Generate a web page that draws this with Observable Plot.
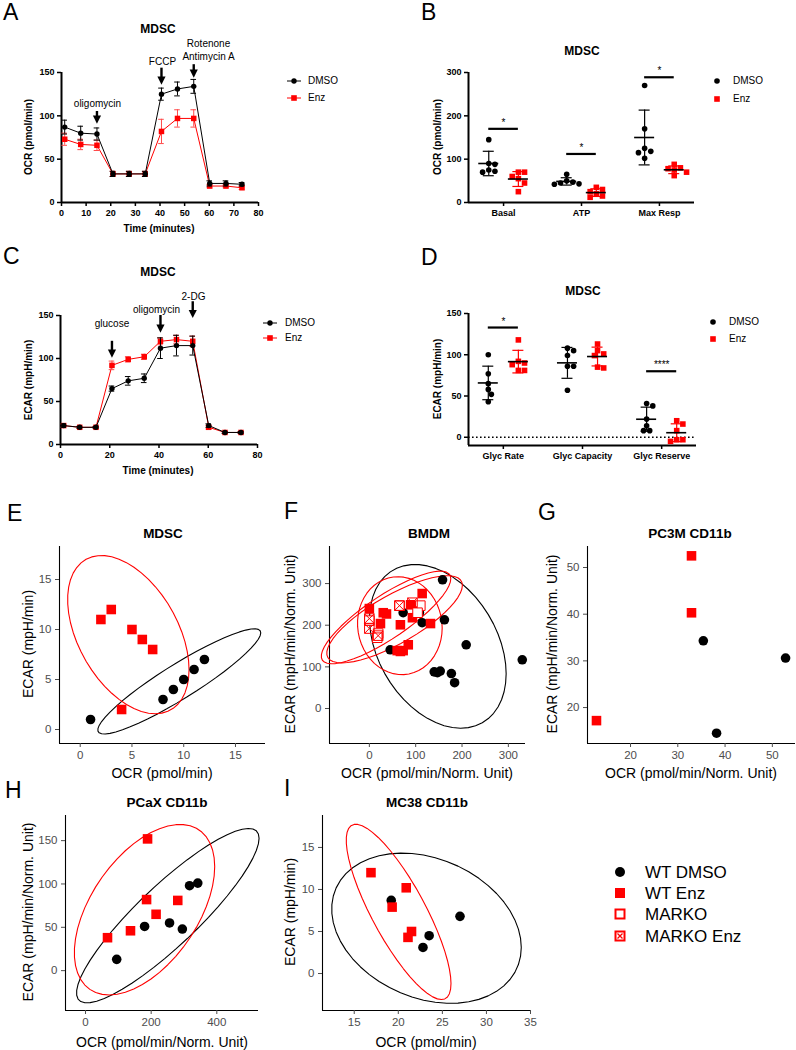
<!DOCTYPE html>
<html>
<head>
<meta charset="utf-8">
<script src="https://cdn.jsdelivr.net/npm/d3@7"></script>
<script src="https://cdn.jsdelivr.net/npm/@observablehq/plot@0.6"></script>
<style>
html,body{margin:0;padding:0;background:#fff;}
#fig{position:relative;width:796px;height:1050px;overflow:hidden;background:#fff;font-family:"Liberation Sans",Arial,Helvetica,sans-serif;}
</style>
</head>
<body>
<div id="fig"></div>
<script>
// ================= DATA =================
// A / C : Seahorse kinetic traces (mean and SD)
const times = [1.3, 7.8, 14.4, 20.9, 27.5, 34.0, 40.6, 47.1, 53.7, 60.2, 66.8, 73.3];
const ocrDmso   = [87, 80, 79, 33, 33, 33, 125, 131, 134, 22, 22, 21];
const ocrDmsoSd = [8, 8, 7, 3, 3, 3, 7, 8, 8, 3, 3, 2];
const ocrEnz    = [73, 67, 66, 33, 33, 33, 82, 97, 97, 19, 19, 17];
const ocrEnzSd  = [7, 6, 6, 3, 3, 3, 14, 10, 10, 2, 2, 2];
const ecarDmso   = [22, 20, 20, 65, 74, 77, 112, 115, 115, 22, 14, 14];
const ecarDmsoSd = [2, 1, 1, 3, 5, 5, 12, 12, 11, 2, 1, 1];
const ecarEnz    = [22, 20, 20, 92, 99, 102, 120, 122, 120, 20, 14, 14];
const ecarEnzSd  = [2, 1, 1, 5, 3, 3, 4, 5, 6, 2, 1, 1];
const injectionsA = ["oligomycin", "FCCP", "Rotenone\nAntimycin A"];
const injectionsC = ["glucose", "oligomycin", "2-DG"];
const ticksTimeA = [0, 10, 20, 30, 40, 50, 60, 70, 80];
const ticksTimeC = [0, 20, 40, 60, 80];
const ticksRate = [0, 50, 100, 150];

// B : mito stress parameters
const catsB = ["Basal", "ATP", "Max Resp"];
const bDmso = [[145, 90, 88, 75, 72, 70], [65, 50, 47, 45, 43, 42], [270, 170, 125, 118, 115, 102]];
const bEnz  = [[70, 70, 60, 55, 45, 25], [35, 30, 25, 20, 15, 12], [88, 80, 78, 75, 70, 62]];
const sigB = ["*", "*", "*"];
const ticksB = [0, 100, 200, 300];

// D : glycolysis stress parameters
const catsD = ["Glyc Rate", "Glyc Capacity", "Glyc Reserve"];
const dDmso = [[100, 77, 65, 58, 52, 43], [108, 105, 99, 86, 86, 57], [41, 38, 22, 14, 8, 8]];
const dEnz  = [[118, 92, 90, 88, 81, 81], [113, 105, 101, 99, 85, 84], [20, 16, 8, -3, -5, -3]];
const sigD = ["*", "", "****"];
const ticksD = [0, 50, 100, 150];

// E : MDSC
const eDmsoOcr = [1, 8, 9, 10, 11, 12];
const eDmsoEcar = [1, 3, 4, 5, 6, 7];
const eEnzOcr = [2, 3, 5, 6, 7, 4];
const eEnzEcar = [11, 12, 10, 9, 8, 2];
// F : BMDM
const fDmsoOcr  = [158, 162, 209, 330, 45, 73, 108, 114, 147, 153, 177, 184, 140];
const fDmsoEcar = [309, 213, 153, 117, 141, 230, 230, 206, 86, 90, 84, 62, 88];
const fEnzOcr   = [0, 30, 37, 24, 89, 114, 93, 67, 132, 60, 73, 84, 67];
const fEnzEcar  = [240, 230, 227, 204, 249, 276, 218, 201, 204, 139, 139, 153, 137];
const fMarkoOcr  = [0, 19, 65, 110, 104, 17];
const fMarkoEcar = [211, 180, 247, 247, 230, 170];
const fMarkoEnzOcr  = [0, 0, 19, 65, 93];
const fMarkoEnzEcar = [216, 192, 175, 247, 254];
// G : PC3M CD11b
const gDmsoOcr = [35.4, 52.8, 38.2];
const gDmsoEcar = [34.3, 30.6, 14.5];
const gEnzOcr = [12.8, 32.9, 32.9];
const gEnzEcar = [17.2, 40.3, 52.5];
// H : PCaX CD11b
const hDmsoOcr = [95, 180, 256, 295, 317, 342];
const hDmsoEcar = [13, 51, 55, 48, 98, 101];
const hEnzOcr = [189, 186, 215, 281, 137, 67];
const hEnzEcar = [152, 82, 65, 81, 46, 38];
// I : MC38 CD11b
const iDmsoOcr = [19.2, 27.0, 23.5, 22.8];
const iDmsoEcar = [8.7, 6.8, 4.5, 3.1];
const iEnzOcr = [16.9, 20.9, 19.3, 21.5, 21.1];
const iEnzEcar = [12.0, 10.2, 7.9, 5.0, 4.3];

const legendGroups = ["WT DMSO", "WT Enz", "MARKO", "MARKO Enz"];

// ================= RENDER =================
const fig = document.getElementById("fig");
const FONT = '"Liberation Sans", Arial, Helvetica, sans-serif';
const RED = "#ff0000";

function txt(s, x, y, o = {}) {
  const d = document.createElement("div");
  d.textContent = s;
  d.style.cssText = `position:absolute;left:${x}px;top:${y}px;white-space:nowrap;line-height:1;font-size:${o.size || 10}px;font-weight:${o.weight || "normal"};color:${o.color || "#000"};font-family:${FONT};`;
  const ax = o.anchor === "start" ? "0" : o.anchor === "end" ? "-100%" : "-50%";
  d.style.transform = `translate(${ax},-50%)` + (o.rotate ? ` rotate(${o.rotate}deg)` : "");
  fig.append(d);
}

function fr(L, T, W, H, x0, x1, yb, yt) { return {L, T, W, H, x0, x1, yb, yt}; }

function plotAt(f, xd, yd, marks, style = {}) {
  const svg = Plot.plot({
    width: f.W, height: f.H,
    marginLeft: f.x0 - f.L, marginRight: f.L + f.W - f.x1,
    marginTop: f.yt - f.T, marginBottom: f.T + f.H - f.yb,
    x: {type: "linear", domain: xd},
    y: {type: "linear", domain: yd},
    style: Object.assign({background: "transparent", overflow: "visible", fontFamily: FONT, color: "#000"}, style),
    marks
  });
  svg.style.position = "absolute";
  svg.style.left = f.L + "px";
  svg.style.top = f.T + "px";
  fig.append(svg);
  return svg;
}

const triDown = {draw(ctx, size) { const s = Math.sqrt(size); ctx.moveTo(0, 0); ctx.lineTo(-s / 2, -s); ctx.lineTo(s / 2, -s); ctx.closePath(); }};
const sqCross = {draw(ctx, size) { const h = Math.sqrt(size) / 2; ctx.moveTo(-h, -h); ctx.lineTo(h, -h); ctx.lineTo(h, h); ctx.lineTo(-h, h); ctx.closePath(); ctx.moveTo(-h, -h); ctx.lineTo(h, h); ctx.moveTo(h, -h); ctx.lineTo(-h, h); }};

function gpAxes(xd, yd, xTicks, yTicks, xFmt) {
  const xo = {tickSize: 4, tickPadding: 3, strokeWidth: 1.5, label: null, fontSize: 9, fontWeight: "bold"};
  if (xFmt) xo.tickFormat = xFmt;
  return [
    Plot.axisX(xTicks, xo),
    Plot.axisY(yTicks, {tickSize: 4, tickPadding: 3, strokeWidth: 1.5, label: null, fontSize: 9, fontWeight: "bold"}),
    Plot.ruleY([yd[0]], {strokeWidth: 2}),
    Plot.ruleX([xd[0]], {strokeWidth: 2})
  ];
}

// ---- kinetic panels (A, C)
function kinetic(f, dmso, dmsoSd, enz, enzSd, inj, ann, xTicks) {
  const xd = [0, 80], yd = [0, 150];
  const pxY = (f.yb - f.yt) / (yd[1] - yd[0]);
  const pxX = (f.x1 - f.x0) / (xd[1] - xd[0]);
  const cap = 2.8 / pxX;
  const marks = [...gpAxes(xd, yd, xTicks, ticksRate)];
  const series = [
    {v: enz, sd: enzSd, col: RED, ecol: "#ff4a4a", sym: "square", r: 3.1},
    {v: dmso, sd: dmsoSd, col: "#000", ecol: "#000", sym: "circle", r: 2.7}
  ];
  for (const s of series) {
    const d = s.v.map((v, i) => ({t: times[i], v, sd: s.sd[i]}));
    marks.push(
      Plot.line(d, {x: "t", y: "v", stroke: s.col, strokeWidth: 1}),
      Plot.ruleX(d, {x: "t", y1: e => e.v - e.sd, y2: e => e.v + e.sd, stroke: s.ecol, strokeWidth: 1}),
      Plot.ruleY(d, {y: e => e.v + e.sd, x1: e => e.t - cap, x2: e => e.t + cap, stroke: s.ecol, strokeWidth: 1}),
      Plot.ruleY(d, {y: e => e.v - e.sd, x1: e => e.t - cap, x2: e => e.t + cap, stroke: s.ecol, strokeWidth: 1}),
      Plot.dot(d, {x: "t", y: "v", symbol: s.sym, fill: s.col, r: s.r})
    );
  }
  const a = inj.map((label, k) => Object.assign({label}, ann[k]));
  marks.push(
    Plot.ruleX(a, {x: d => times[d.i], y1: "y1", y2: d => d.y2 + 5 / pxY, strokeWidth: 2.4}),
    Plot.dot(a, {x: d => times[d.i], y: "y2", symbol: triDown, r: 4.6, fill: "#000", stroke: "none"}),
    Plot.text(a, {x: "tx", y: "ty", text: "label", fontSize: 10, fontWeight: "normal", lineHeight: 1.3})
  );
  plotAt(f, xd, yd, marks, {fontSize: "9px", fontWeight: "bold"});
}

// ---- scatter dot plots with mean/SD (B, D)
function swarm(vals, pxY, dia) {
  const idx = d3.range(vals.length).sort((a, b) => vals[b] - vals[a]);
  const placed = [], off = new Array(vals.length).fill(0);
  for (const i of idx) {
    const y = vals[i] * pxY;
    for (let k = 0; k < 30; k++) {
      const c = k === 0 ? 0 : (k % 2 ? 1 : -1) * Math.ceil(k / 2) * dia * 0.55;
      if (placed.every(p => Math.hypot(p.x - c, p.y - y) >= dia)) { off[i] = c; break; }
    }
    placed.push({x: off[i], y});
  }
  return off;
}

function dotPanel(f, xd, yd, cats, dmso, enz, sig, sigY, yTicks, extra) {
  const pxX = (f.x1 - f.x0) / (xd[1] - xd[0]);
  const pxY = (f.yb - f.yt) / (yd[1] - yd[0]);
  const off = 0.19;
  const pts = {DMSO: [], Enz: []}, st = {DMSO: [], Enz: []};
  cats.forEach((c, i) => {
    [["DMSO", dmso[i], -off], ["Enz", enz[i], off]].forEach(([g, vals, o]) => {
      const sw = swarm(vals, pxY, 5.6);
      vals.forEach((v, k) => pts[g].push({x: i + o + sw[k] / pxX, y: v}));
      st[g].push({x: i + o, m: d3.mean(vals), s: d3.deviation(vals)});
    });
  });
  const capW = 5.5 / pxX, meanW = 10 / pxX;
  const sg = cats.map((c, i) => ({i, s: sig[i], y: sigY[i]})).filter(d => d.s);
  const marks = [...(extra || []), ...gpAxes(xd, yd, [0, 1, 2], yTicks, i => cats[i])];
  marks.push(
    Plot.dot(pts.DMSO, {x: "x", y: "y", r: 2.8, fill: "#000"}),
    Plot.dot(pts.Enz, {x: "x", y: "y", r: 3.15, symbol: "square", fill: RED})
  );
  for (const [g, col] of [["DMSO", "#000"], ["Enz", RED]]) {
    const s = st[g];
    marks.push(
      Plot.ruleX(s, {x: "x", y1: d => d.m - d.s, y2: d => d.m + d.s, stroke: col, strokeWidth: 1.2}),
      Plot.ruleY(s, {y: d => d.m + d.s, x1: d => d.x - capW, x2: d => d.x + capW, stroke: col, strokeWidth: 1.2}),
      Plot.ruleY(s, {y: d => d.m - d.s, x1: d => d.x - capW, x2: d => d.x + capW, stroke: col, strokeWidth: 1.2}),
      Plot.ruleY(s, {y: "m", x1: d => d.x - meanW, x2: d => d.x + meanW, stroke: "#000", strokeWidth: 1.6})
    );
  }
  marks.push(
    Plot.ruleY(sg, {y: "y", x1: d => d.i - off, x2: d => d.i + off, strokeWidth: 2.2}),
    Plot.text(sg, {x: "i", y: "y", text: "s", dy: -6, fontSize: 10, fontWeight: "normal"})
  );
  plotAt(f, xd, yd, marks, {fontSize: "9px", fontWeight: "bold"});
}

// ---- ggplot-style scatter with stat_ellipse (type "t", level .95)
function covTrob(pts, nu = 5, maxit = 25, tol = 0.01) {
  const n = pts.length, p = 2;
  let loc = [d3.mean(pts, d => d[0]), d3.mean(pts, d => d[1])];
  let w = pts.map(() => 1), X = null;
  for (let it = 0; it < maxit; it++) {
    const w0 = w;
    X = pts.map(d => [d[0] - loc[0], d[1] - loc[1]]);
    const sw = d3.sum(w);
    let a = 0, b = 0, c = 0;
    X.forEach(([u, v], i) => { a += w[i] * u * u; b += w[i] * u * v; c += w[i] * v * v; });
    a /= sw; b /= sw; c /= sw;
    const det = a * c - b * b;
    const Q = X.map(([u, v]) => (c * u * u - 2 * b * u * v + a * v * v) / det);
    w = Q.map(q => (nu + p) / (nu + q));
    const s2 = d3.sum(w);
    loc = [d3.sum(pts, (d, i) => w[i] * d[0]) / s2, d3.sum(pts, (d, i) => w[i] * d[1]) / s2];
    if (w.every((v, i) => Math.abs(v - w0[i]) < tol)) break;
  }
  let a = 0, b = 0, c = 0;
  X.forEach(([u, v], i) => { a += w[i] * u * u; b += w[i] * u * v; c += w[i] * v * v; });
  return {center: loc, cov: [a / n, b / n, c / n]};
}
function ellipsePts(pts, level = 0.95, seg = 51) {
  const {center, cov} = covTrob(pts);
  const m = pts.length - 1;
  const fq = (m / 2) * (Math.pow(1 - level, -2 / m) - 1);
  const r = Math.sqrt(2 * fq);
  const a = Math.sqrt(cov[0]), b = cov[1] / a, c = Math.sqrt(Math.max(cov[2] - b * b, 0));
  return d3.range(seg + 1).map(k => {
    const t = 2 * Math.PI * k / seg;
    return [center[0] + r * a * Math.cos(t), center[1] + r * (b * Math.cos(t) + c * Math.sin(t))];
  });
}

function ggPanel(f, xd, yd, xt, yt, groups) {
  const marks = [
    Plot.ruleY([yd[0]], {stroke: "#000000", strokeWidth: 1.1}),
    Plot.ruleX([xd[0]], {stroke: "#000000", strokeWidth: 1.1}),
    Plot.axisX(xt, {tickSize: 4, tickPadding: 3, label: null, fontSize: 11.5}),
    Plot.axisY(yt, {tickSize: 4, tickPadding: 4, label: null, fontSize: 11.5})
  ];
  for (const g of groups) {
    if (!g.ell) continue;
    const pts = g.ocr.map((x, i) => [x, g.ecar[i]]);
    marks.push(Plot.line(ellipsePts(pts), {x: d => d[0], y: d => d[1], stroke: g.kind === "dmso" ? "#000000" : RED, strokeWidth: 1.1}));
  }
  for (const g of groups) {
    const d = g.ocr.map((x, i) => ({x, y: g.ecar[i]}));
    if (g.kind === "dmso") marks.push(Plot.dot(d, {x: "x", y: "y", r: 4.8, fill: "#000000"}));
    else if (g.kind === "enz") marks.push(Plot.dot(d, {x: "x", y: "y", r: 5.4, symbol: "square", fill: RED}));
    else if (g.kind === "marko") marks.push(Plot.dot(d, {x: "x", y: "y", r: 5.4, symbol: "square", fill: "white", stroke: RED, strokeWidth: 1}));
    else marks.push(Plot.dot(d, {x: "x", y: "y", r: 5.4, symbol: sqCross, fill: "none", stroke: RED, strokeWidth: 1}));
  }
  plotAt(f, xd, yd, marks, {fontSize: "11.5px", color: "#4d4d4d"});
}

// ---------- Panel A
kinetic(fr(0, 0, 270, 240, 61, 258, 202, 72), ocrDmso, ocrDmsoSd, ocrEnz, ocrEnzSd, injectionsA,
  [{i: 2, tx: 14.6, ty: 115, y1: 105, y2: 91}, {i: 6, tx: 41, ty: 164, y1: 155, y2: 136}, {i: 8, tx: 59.7, ty: 177, y1: 159, y2: 144}], ticksTimeA);
// ---------- Panel C
kinetic(fr(0, 240, 270, 240, 60, 257, 444, 315), ecarDmso, ecarDmsoSd, ecarEnz, ecarEnzSd, injectionsC,
  [{i: 3, tx: 20.9, ty: 141, y1: 120, y2: 101}, {i: 6, tx: 39, ty: 158, y1: 150, y2: 130}, {i: 8, tx: 54, ty: 173, y1: 166, y2: 147}], ticksTimeC);
// ---------- Panel B
dotPanel(fr(400, 0, 320, 240, 468, 694, 202, 72), [-0.45, 2.45], [0, 300], catsB, bDmso, bEnz, sigB, [170, 112, 289], ticksB);
// ---------- Panel D
dotPanel(fr(400, 240, 320, 240, 468, 696, 445, 313), [-0.44, 2.44], [-10, 150], catsD, dDmso, dEnz, sigD, [133, null, 80], ticksD,
  [Plot.ruleY([0], {strokeDasharray: "1.6,2.4", strokeWidth: 1.5})]);
// ---------- Panel E
ggPanel(fr(0, 490, 270, 290, 59, 265, 743, 546), [-2.0, 17.9], [-1.4, 18.3], [0, 5, 10, 15], [0, 5, 10, 15], [
  {ocr: eDmsoOcr, ecar: eDmsoEcar, kind: "dmso", ell: true},
  {ocr: eEnzOcr, ecar: eEnzEcar, kind: "enz", ell: true}]);
// ---------- Panel F
ggPanel(fr(265, 490, 265, 290, 329, 525, 743, 546), [-86, 337], [-84, 389], [0, 100, 200, 300], [0, 100, 200, 300], [
  {ocr: fDmsoOcr, ecar: fDmsoEcar, kind: "dmso", ell: true},
  {ocr: fEnzOcr, ecar: fEnzEcar, kind: "enz", ell: true},
  {ocr: fMarkoOcr, ecar: fMarkoEcar, kind: "marko", ell: true},
  {ocr: fMarkoEnzOcr, ecar: fMarkoEnzEcar, kind: "markoEnz", ell: true}]);
// ---------- Panel G
ggPanel(fr(530, 490, 266, 290, 587, 795, 743, 546), [10.9, 54.9], [12.3, 54.5], [20, 30, 40, 50], [20, 30, 40, 50], [
  {ocr: gDmsoOcr, ecar: gDmsoEcar, kind: "dmso", ell: false},
  {ocr: gEnzOcr, ecar: gEnzEcar, kind: "enz", ell: false}]);
// ---------- Panel H
ggPanel(fr(0, 780, 265, 270, 65, 258, 1010, 815), [-61, 527], [-46, 179], [0, 200, 400], [0, 50, 100, 150], [
  {ocr: hDmsoOcr, ecar: hDmsoEcar, kind: "dmso", ell: true},
  {ocr: hEnzOcr, ecar: hEnzEcar, kind: "enz", ell: true}]);
// ---------- Panel I
ggPanel(fr(265, 780, 275, 270, 322, 530, 1010, 815), [11.4, 35.0], [-4.4, 18.8], [15, 20, 25, 30, 35], [0, 5, 10, 15], [
  {ocr: iDmsoOcr, ecar: iDmsoEcar, kind: "dmso", ell: true},
  {ocr: iEnzOcr, ecar: iEnzEcar, kind: "enz", ell: true}]);

// ---------- texts
const L = 23;
txt("A", 3, 12, {size: L, anchor: "start"});
txt("B", 421, 12, {size: L, anchor: "start"});
txt("C", 3, 256, {size: L, anchor: "start"});
txt("D", 421, 257, {size: L, anchor: "start"});
txt("E", 7, 513, {size: L, anchor: "start"});
txt("F", 284, 511, {size: L, anchor: "start"});
txt("G", 538, 512, {size: L, anchor: "start"});
txt("H", 5, 790, {size: L, anchor: "start"});
txt("I", 284, 788, {size: L, anchor: "start"});

txt("MDSC", 158, 29, {size: 12, weight: "bold"});
txt("MDSC", 582, 51, {size: 12, weight: "bold"});
txt("MDSC", 158, 272, {size: 12, weight: "bold"});
txt("MDSC", 583, 291, {size: 12, weight: "bold"});
txt("MDSC", 163, 534, {size: 13.5, weight: "bold"});
txt("BMDM", 429, 534, {size: 13.5, weight: "bold"});
txt("PC3M CD11b", 690, 534, {size: 13.5, weight: "bold"});
txt("PCaX CD11b", 167, 803, {size: 13.5, weight: "bold"});
txt("MC38 CD11b", 427, 803, {size: 13.5, weight: "bold"});

txt("Time (minutes)", 159, 229, {size: 10, weight: "bold"});
txt("Time (minutes)", 158, 471, {size: 10, weight: "bold"});
txt("OCR (pmol/min)", 29, 137, {size: 10, weight: "bold", rotate: -90});
txt("OCR (pmol/min)", 438, 137, {size: 10, weight: "bold", rotate: -90});
txt("ECAR (mpH/min)", 29, 380, {size: 10, weight: "bold", rotate: -90});
txt("ECAR (mpH/min)", 438, 379, {size: 10, weight: "bold", rotate: -90});

txt("OCR (pmol/min)", 162, 773, {size: 14});
txt("OCR (pmol/min/Norm. Unit)", 427, 773, {size: 14});
txt("OCR (pmol/min/Norm. Unit)", 691, 773, {size: 14});
txt("OCR (pmol/min/Norm. Unit)", 162, 1042, {size: 14});
txt("OCR (pmol/min)", 426, 1042, {size: 14});
txt("ECAR (mpH/min)", 28, 644, {size: 14, rotate: -90});
txt("ECAR (mpH/min/Norm. Unit)", 290, 644, {size: 14, rotate: -90});
txt("ECAR (mpH/min/Norm. Unit)", 552, 644, {size: 14, rotate: -90});
txt("ECAR (mpH/min/Norm. Unit)", 28, 912, {size: 14, rotate: -90});
txt("ECAR (mpH/min)", 290, 912, {size: 14, rotate: -90});

// legends
txt("DMSO", 308, 81, {size: 10, anchor: "start"});
txt("Enz", 308, 98, {size: 10, anchor: "start"});
txt("DMSO", 285, 323, {size: 10, anchor: "start"});
txt("Enz", 285, 338, {size: 10, anchor: "start"});
txt("DMSO", 733, 81, {size: 10, anchor: "start"});
txt("Enz", 733, 99, {size: 10, anchor: "start"});
txt("DMSO", 729, 322, {size: 10, anchor: "start"});
txt("Enz", 729, 339, {size: 10, anchor: "start"});
const legY = [872, 893, 914, 936];
legendGroups.forEach((s, k) => txt(s, 645, legY[k], {size: 17, anchor: "start"}));

const ov = document.createElementNS("http://www.w3.org/2000/svg", "svg");
ov.setAttribute("width", 796); ov.setAttribute("height", 1050);
ov.style.cssText = "position:absolute;left:0;top:0;pointer-events:none;";
ov.innerHTML = `
<line x1="287" y1="81" x2="301" y2="81" stroke="#000" stroke-width="1"/><circle cx="294" cy="81" r="2.7" fill="#000"/>
<line x1="287" y1="98" x2="301" y2="98" stroke="${RED}" stroke-width="1"/><rect x="291.2" y="95.2" width="5.6" height="5.6" fill="${RED}"/>
<line x1="263" y1="323" x2="277" y2="323" stroke="#000" stroke-width="1"/><circle cx="270" cy="323" r="2.7" fill="#000"/>
<line x1="263" y1="338" x2="277" y2="338" stroke="${RED}" stroke-width="1"/><rect x="267.2" y="335.2" width="5.6" height="5.6" fill="${RED}"/>
<circle cx="717" cy="81" r="2.8" fill="#000"/><rect x="714.2" y="96.2" width="5.6" height="5.6" fill="${RED}"/>
<circle cx="713" cy="322" r="2.8" fill="#000"/><rect x="710.2" y="336.2" width="5.6" height="5.6" fill="${RED}"/>
<circle cx="620" cy="872" r="5" fill="#000"/>
<rect x="615" y="888" width="10" height="10" fill="${RED}"/>
<rect x="615.5" y="909.5" width="9" height="9" fill="#fff" stroke="${RED}" stroke-width="2"/>
<rect x="615.5" y="931.5" width="9" height="9" fill="#fff" stroke="${RED}" stroke-width="2"/>
<path d="M617.5,933.5L622.5,938.5M622.5,933.5L617.5,938.5" stroke="${RED}" stroke-width="1.3"/>`;
fig.append(ov);
</script>
</body>
</html>
